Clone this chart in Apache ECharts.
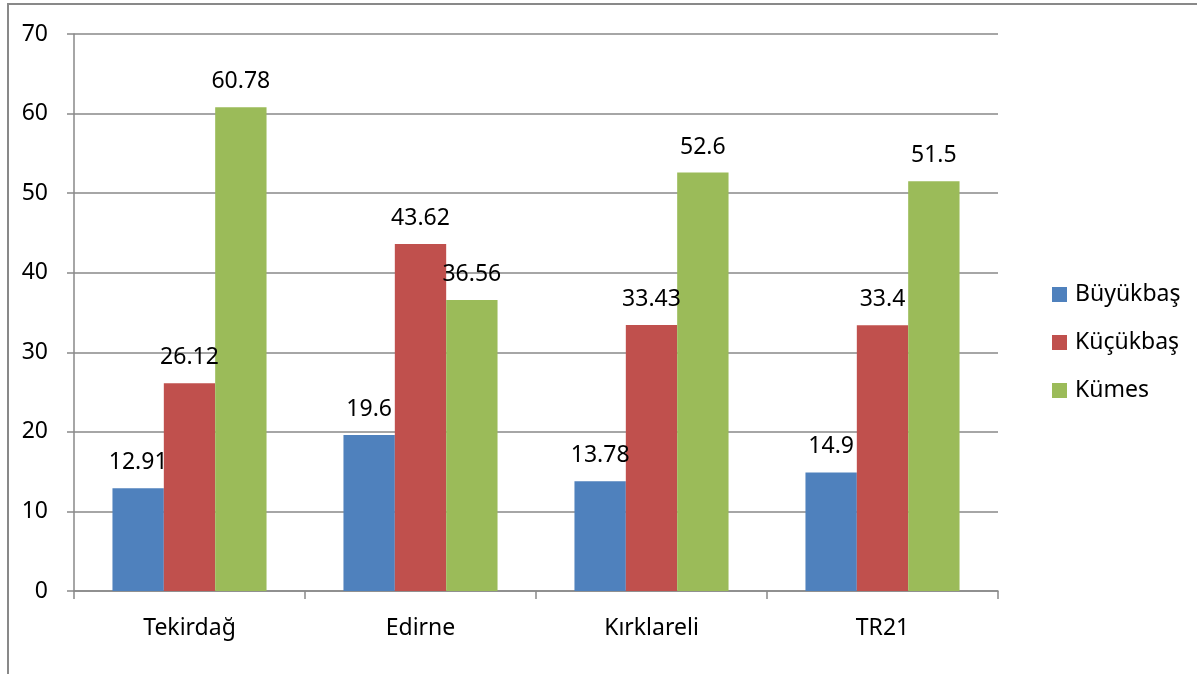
<!DOCTYPE html>
<html>
<head>
<meta charset="utf-8">
<script src="https://cdn.jsdelivr.net/npm/echarts@6/dist/echarts.min.js"></script>
<style>
  html, body { margin: 0; padding: 0; background: #fff; }
  #chart { width: 1197px; height: 674px; }
</style>
</head>
<body>
<div id="chart"></div>
<script>
// Livestock share by province (%)
const categories = ['Tekirdağ', 'Edirne', 'Kırklareli', 'TR21'];
const seriesNames = ['Büyükbaş', 'Küçükbaş', 'Kümes'];
const buyukbas = [12.91, 19.6, 13.78, 14.9];
const kucukbas = [26.12, 43.62, 33.43, 33.4];
const kumes = [60.78, 36.56, 52.6, 51.5];
const yTicks = [0, 10, 20, 30, 40, 50, 60, 70];

const colors = ['#4F81BD', '#C0504D', '#9BBB59'];
const font = '"Noto Sans", "Open Sans", sans-serif';
const fontSize = 23;
const gridColor = '#898989';

const chart = echarts.init(document.getElementById('chart'), null, { renderer: 'canvas' });

function barSeries(name, data, color) {
  return {
    name: name,
    type: 'bar',
    data: data,
    barGap: '0%',
    barCategoryGap: '33.3%',
    itemStyle: { color: color },
    label: {
      show: true,
      position: 'top',
      distance: 14,
      color: '#000',
      fontSize: fontSize,
      fontFamily: font
    }
  };
}

chart.setOption({
  animation: false,
  backgroundColor: '#fff',
  textStyle: { fontFamily: font },
  graphic: [{
    type: 'rect',
    shape: { x: 8, y: 4, width: 1400, height: 900 },
    style: { fill: 'none', stroke: gridColor, lineWidth: 2 },
    silent: true
  }],
  grid: { left: 74, right: 199, top: 34, bottom: 83, containLabel: false },
  legend: {
    orient: 'vertical',
    left: 1047,
    top: 278,
    itemWidth: 15,
    itemHeight: 15,
    itemGap: 25,
    icon: 'rect',
    textStyle: { fontSize: fontSize, color: '#000', fontFamily: font, padding: [0, 0, 0, 3] },
    data: seriesNames
  },
  xAxis: {
    type: 'category',
    data: categories,
    axisLine: { lineStyle: { color: gridColor, width: 1.5 } },
    axisTick: { show: true, length: 8, lineStyle: { color: gridColor, width: 1.5 } },
    axisLabel: { fontSize: fontSize, color: '#000', margin: 26, fontFamily: font }
  },
  yAxis: {
    type: 'value',
    min: yTicks[0],
    max: yTicks[yTicks.length - 1],
    interval: 10,
    axisLine: { show: true, lineStyle: { color: gridColor, width: 1.5 } },
    axisTick: { show: true, length: 7, lineStyle: { color: gridColor, width: 1.5 } },
    splitLine: { lineStyle: { color: gridColor, width: 1.5 } },
    axisLabel: { fontSize: fontSize, color: '#000', margin: 26, fontFamily: font }
  },
  series: [
    barSeries(seriesNames[0], buyukbas, colors[0]),
    barSeries(seriesNames[1], kucukbas, colors[1]),
    barSeries(seriesNames[2], kumes, colors[2])
  ]
});
</script>
</body>
</html>
